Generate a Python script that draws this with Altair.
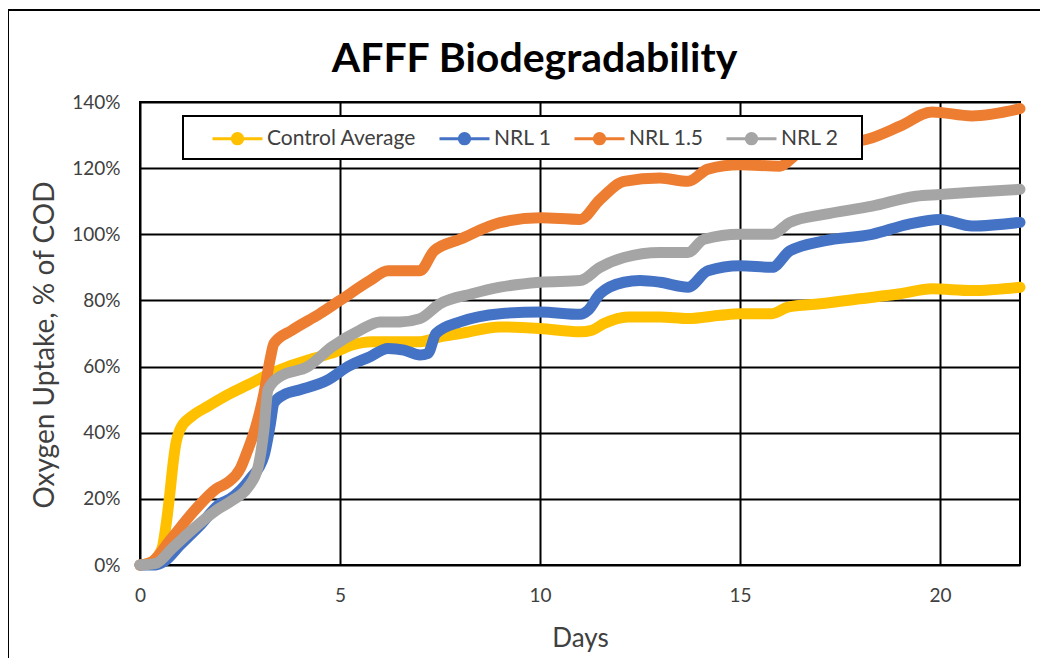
import altair as alt
import pandas as pd

SERIES = ["Control Average", "NRL 1", "NRL 1.5", "NRL 2"]
COLORS = ["#FFC000", "#4472C4", "#ED7D31", "#A5A5A5"]

control_days = [0, 0.3, 0.55, 0.65, 0.75, 0.82, 0.9, 1.0, 1.3, 1.7, 2.2, 2.7, 3.2, 3.7, 4.2, 4.9, 5.3,
                5.8, 6.5, 7.0, 7.5, 8.0, 9.0, 10.0, 11.0, 11.3, 11.6, 12.2, 13.0, 13.7, 14.5, 15.0,
                15.8, 16.2, 17.0, 18.0, 19.0, 19.8, 20.8, 22.0]
control_vals = [0, 1, 5, 12, 22, 30, 37, 41, 45, 48, 51.5, 54.5, 57.5, 60, 62, 64.5, 66.5,
                67.5, 67.5, 67.5, 69, 70, 72, 71.5, 70.5, 71, 73, 75, 75, 74.5, 75.5, 76,
                76, 78, 79, 80.5, 82, 83.5, 83, 84]

nrl1_days = [0, 0.4, 0.6, 1.0, 1.5, 2.0, 2.25, 2.75, 3.1, 3.25, 3.35, 3.6, 4.0, 4.7, 5.2, 5.75, 6.2,
             6.6, 7.0, 7.2, 7.4, 8.0, 9.0, 10.0, 11.0, 11.2, 11.5, 12.1, 12.5, 13.0, 13.7, 14.2,
             15.0, 15.8, 16.25, 17.1, 18.3, 19.2, 20.0, 20.8, 22.0]
nrl1_vals = [0, 0, 1, 6, 12, 18.5, 20, 26, 33, 42, 49, 51.5, 53, 56, 60, 63, 65.5,
             65, 63.5, 64, 70, 73.5, 76, 76.5, 75.8, 77, 82, 85.5, 86, 85.5, 84, 89,
             90.5, 90, 95, 98, 100, 103, 104.5, 102.5, 103.6]

nrl15_days = [0, 0.3, 0.75, 1.4, 1.9, 2.2, 2.5, 2.67, 2.9, 3.1, 3.25, 3.35, 3.8, 4.5, 5.0, 5.75,
              6.2, 7.0, 7.35, 8.0, 9.0, 10.0, 11.0, 11.5, 12.1, 13.0, 13.7, 14.2, 15.0, 16.0,
              16.4, 17.0, 17.6, 18.2, 19.0, 19.8, 20.8, 22.0]
nrl15_vals = [0, 1, 7.5, 17, 23, 25, 29, 34, 42, 52, 62, 67, 71, 76, 80, 86,
              89, 89, 95, 98.5, 103.5, 105, 104.5, 110.5, 116, 117, 116, 119.7, 121, 120.6,
              124, 126, 127.5, 128.8, 132.7, 137, 135.8, 138]

nrl2_days = [0, 0.4, 0.8, 1.2, 1.9, 2.3, 2.7, 2.95, 3.1, 3.2, 3.5, 4.2, 4.8, 5.5, 6.0, 6.5, 7.0,
             7.5, 8.3, 9.0, 10.0, 11.0, 11.5, 12.1, 13.0, 13.7, 14.1, 15.0, 15.8, 16.25, 17.1,
             18.3, 19.4, 20.0, 20.8, 22.0]
nrl2_vals = [0, 0.5, 5, 9.5, 16.5, 19.5, 23.5, 29.5, 41, 53, 57, 60, 66, 71, 73.5, 73.5, 74.5,
             79, 82, 84, 85.5, 86, 90, 93, 94.5, 94.5, 98.5, 100, 100, 103.6, 106,
             108.5, 111.5, 112, 112.7, 113.6]

X_TICKS = [0, 5, 10, 15, 20]
Y_TICKS = [0, 20, 40, 60, 80, 100, 120, 140]

rows = []
for name, days, vals in zip(SERIES, [control_days, nrl1_days, nrl15_days, nrl2_days],
                            [control_vals, nrl1_vals, nrl15_vals, nrl2_vals]):
    for d, v in zip(days, vals):
        rows.append({"series": name, "day": d, "pct": v})
df = pd.DataFrame(rows)
one = pd.DataFrame({"k": [0]})

FONT = "Lato"
TXT = "#404040"

# legend symbol: line with a solid dot built from concentric rings
SYMBOL = ("M-2.5,0H2.5"
          "M0.12,0A0.12,0.12,0,1,1,-0.12,0A0.12,0.12,0,1,1,0.12,0"
          "M0.36,0A0.36,0.36,0,1,1,-0.36,0A0.36,0.36,0,1,1,0.36,0"
          "M0.52,0A0.52,0.52,0,1,1,-0.52,0A0.52,0.52,0,1,1,0.52,0")

lines = alt.Chart(df).mark_line(
    strokeCap="round", strokeJoin="round", interpolate="monotone"
).encode(
    x=alt.X("day:Q", scale=alt.Scale(domain=[0, 22], nice=False),
            axis=alt.Axis(values=X_TICKS, title="Days", grid=True, gridColor="black", gridWidth=2,
                          domain=False, ticks=False, tickSize=0, labelFlush=False,
                          labelFont=FONT, labelFontSize=19, labelColor=TXT, labelPadding=21,
                          titleFont=FONT, titleFontSize=26, titleFontWeight="normal", titleColor=TXT,
                          titleX=440, titleY=81, titleBaseline="alphabetic", titleAlign="center")),
    y=alt.Y("pct:Q", scale=alt.Scale(domain=[0, 140], nice=False),
            axis=alt.Axis(values=Y_TICKS, labelExpr="datum.value + '%'",
                          title="Oxygen Uptake, % of COD", grid=True, gridColor="black", gridWidth=2,
                          domain=False, ticks=False, tickSize=0, labelFlush=False,
                          labelFont=FONT, labelFontSize=19, labelColor=TXT, labelPadding=20,
                          titleFont=FONT, titleFontSize=28, titleFontWeight="normal", titleColor=TXT,
                          titleX=-87, titleY=242.5, titleBaseline="alphabetic", titleAlign="center",
                          titleAngle=270)),
    color=alt.Color("series:N", scale=alt.Scale(domain=SERIES, range=COLORS),
                    legend=alt.Legend(title=None, orient="none", legendX=86, legendY=25,
                                      direction="horizontal", symbolType=SYMBOL, symbolSize=400,
                                      symbolStrokeWidth=3, labelFont=FONT, labelFontSize=21,
                                      labelColor=TXT, labelOffset=18, columnPadding=16,
                                      padding=0, labelLimit=300)),
    strokeWidth=alt.value(11),
)

frame = alt.Chart(one).mark_rect(fill="transparent", stroke="black", strokeWidth=2).encode(
    x=alt.value(-132), x2=alt.value(930), y=alt.value(-92), y2=alt.value(620))

legend_box = alt.Chart(one).mark_rect(fill="white", stroke="black", strokeWidth=2).encode(
    x=alt.value(43), x2=alt.value(722), y=alt.value(14), y2=alt.value(57))

title = alt.Chart(one).mark_text(
    text="AFFF Biodegradability", font=FONT, fontSize=41, fontWeight="bold", color="black",
    align="center", baseline="alphabetic"
).encode(x=alt.value(394.5), y=alt.value(-30))

chart = alt.layer(frame, lines, legend_box, title).properties(
    width=880, height=463,
    padding={"left": 132, "top": 94, "right": 20, "bottom": 93},
    autosize=alt.AutoSizeParams(type="none"),
    background="white",
).configure_view(stroke="black", strokeWidth=2)

chart.save("out.html", embed_options={"renderer": "svg", "actions": False})
